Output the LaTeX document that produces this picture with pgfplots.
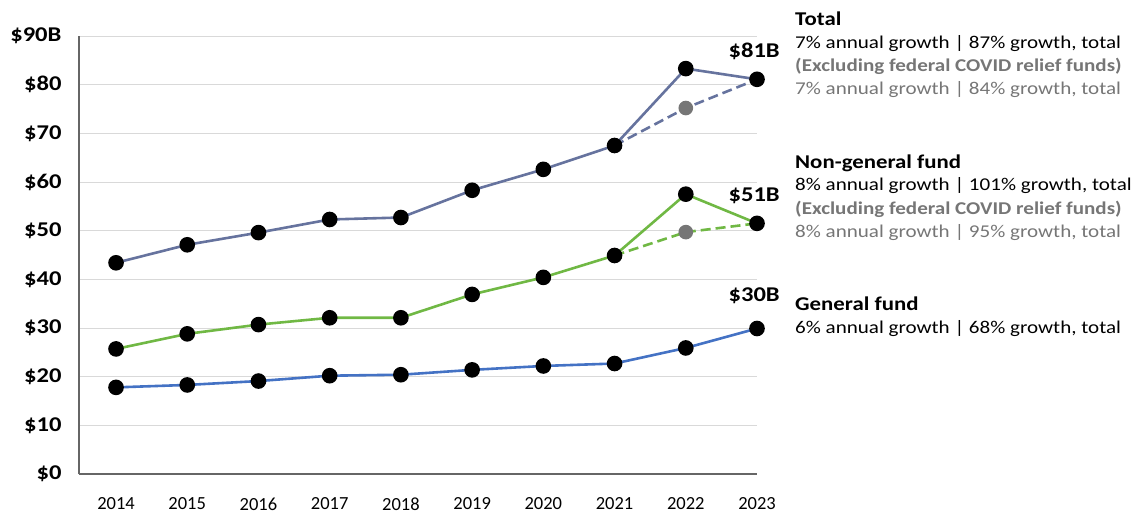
\documentclass[border=0pt]{standalone}
\usepackage{fontspec}
\setmainfont{Carlito}
\newfontfamily\widefont[FakeStretch=1.17]{Carlito}
\usepackage{pgfplots}
\pgfplotsset{compat=1.18}
\definecolor{totc}{HTML}{66739E}
\definecolor{ngc}{HTML}{70B844}
\definecolor{gfc}{HTML}{4472C4}
\definecolor{grayd}{HTML}{767676}
\definecolor{gridc}{HTML}{D9D9D9}
\definecolor{axisc}{HTML}{666666}
\begin{document}
\begin{tikzpicture}[x=1pt,y=1pt]
\path[use as bounding box] (0,0) rectangle (1145,515);
\begin{axis}[at={(79pt,41pt)}, anchor=south west, scale only axis,
  width=678pt, height=438pt,
  xmin=2013.48, xmax=2023, ymin=0, ymax=90, clip=false,
  axis x line*=bottom, axis y line*=left,
  axis line style={-},
  x axis line style={draw=axisc, line width=1.2pt},
  y axis line style={draw=axisc, line width=1.5pt},
  ytick={0,10,...,90},
  yticklabels={\$0,\$10,\$20,\$30,\$40,\$50,\$60,\$70,\$80,\$90B},
  xtick={2014,2015,...,2023},
  xticklabels={2014,2015,2016,2017,2018,2019,2020,2021,2022,2023},
  major tick length=0pt,
  ymajorgrids, grid style={draw=gridc, line width=1pt},
  yticklabel style={font=\widefont\fontsize{21}{21}\selectfont\bfseries, anchor=east, xshift=-14pt},
  xticklabel style={font=\fontsize{18.5}{20}\selectfont, anchor=north, yshift=-20pt},
  every axis plot/.append style={line width=2.6pt},
]
% Excluding COVID relief (dashed)
\addplot[totc, dashed, dash pattern=on 10pt off 5pt, no marks] coordinates {(2021,67.5) (2022,75.2) (2023,81.1)};
\addplot[ngc, dashed, dash pattern=on 10pt off 5pt, no marks] coordinates {(2021,44.9) (2022,49.7) (2023,51.5)};
\addplot[only marks, mark=*, mark size=6pt, mark options={fill=grayd, draw=grayd}] coordinates {(2022,75.2) (2022,49.7)};
% Total
\addplot[totc, mark=*, mark size=6.5pt, mark options={fill=black, draw=black}] coordinates {
(2014,43.4) (2015,47.1) (2016,49.6) (2017,52.3) (2018,52.7) (2019,58.3) (2020,62.6) (2021,67.5) (2022,83.3) (2023,81.1)};
% Non-general fund
\addplot[ngc, mark=*, mark size=6.5pt, mark options={fill=black, draw=black}] coordinates {
(2014,25.7) (2015,28.8) (2016,30.7) (2017,32.1) (2018,32.1) (2019,36.9) (2020,40.4) (2021,44.9) (2022,57.5) (2023,51.5)};
% General fund
\addplot[gfc, mark=*, mark size=6.5pt, mark options={fill=black, draw=black}] coordinates {
(2014,17.8) (2015,18.3) (2016,19.1) (2017,20.2) (2018,20.4) (2019,21.4) (2020,22.2) (2021,22.7) (2022,25.9) (2023,29.9)};
\node[font=\widefont\fontsize{21}{21}\selectfont\bfseries] at (axis cs:2022.96,86.9) {\$81B};
\node[font=\widefont\fontsize{21}{21}\selectfont\bfseries] at (axis cs:2022.96,57.2) {\$51B};
\node[font=\widefont\fontsize{21}{21}\selectfont\bfseries] at (axis cs:2022.96,36.7) {\$30B};
\end{axis}
\begin{scope}[every node/.style={anchor=base west, inner sep=0pt, font=\widefont\fontsize{18}{20}\selectfont}]
\node[font=\widefont\fontsize{19.5}{20}\selectfont\bfseries] at (795,489) {Total};
\node at (795,466.7) {7\% annual growth | 87\% growth, total};
\node[text=grayd, font=\widefont\fontsize{18}{20}\selectfont\bfseries] at (795,443.5) {(Excluding federal COVID relief funds)};
\node[text=grayd] at (795,420) {7\% annual growth | 84\% growth, total};
\node[font=\widefont\fontsize{19.5}{20}\selectfont\bfseries] at (795,346.7) {Non-general fund};
\node at (795,325) {8\% annual growth | 101\% growth, total};
\node[text=grayd, font=\widefont\fontsize{18}{20}\selectfont\bfseries] at (795,301) {(Excluding federal COVID relief funds)};
\node[text=grayd] at (795,277.7) {8\% annual growth | 95\% growth, total};
\node[font=\widefont\fontsize{19.5}{20}\selectfont\bfseries] at (795,205) {General fund};
\node at (795,181.7) {6\% annual growth | 68\% growth, total};
\end{scope}
\end{tikzpicture}
\end{document}
